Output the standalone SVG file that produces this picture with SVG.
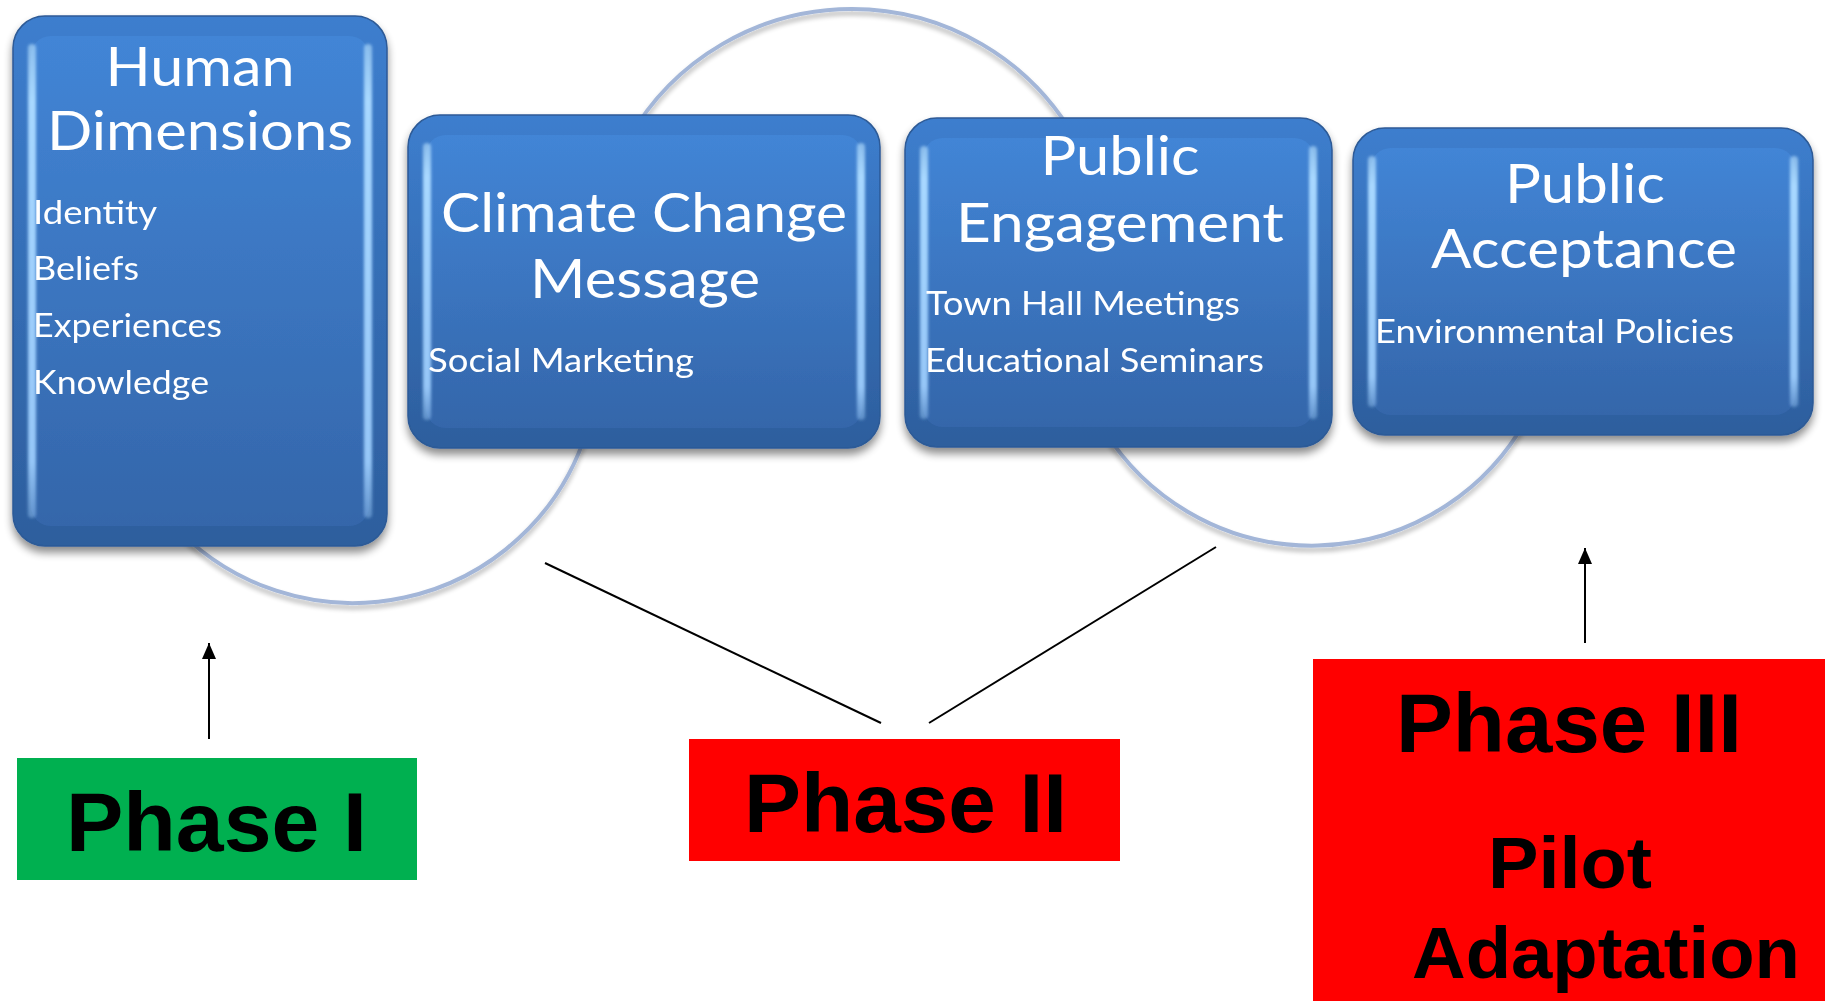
<svg xmlns="http://www.w3.org/2000/svg" width="1825" height="1001" viewBox="0 0 1825 1001">
<defs>
<style>
.outer{fill:url(#gOuter);stroke:#2d5a96;stroke-width:1.5}
.inner{fill:url(#gInner)}
.hi{fill:url(#gHi);filter:url(#soft)}
.title{font-family:Lato,"Liberation Sans",sans-serif;font-size:55px;fill:#ffffff}
.sub{font-family:Lato,"Liberation Sans",sans-serif;font-size:33px;fill:#ffffff}
.phase{font-family:"Liberation Sans",Arial,sans-serif;font-weight:bold;fill:#000000}
.arc{fill:none;stroke:#a3b6d8;stroke-width:4}
.conn{stroke:#000000;stroke-width:2;fill:none}
</style>
<linearGradient id="gOuter" x1="0" y1="0" x2="0" y2="1">
<stop offset="0" stop-color="#3d7ece"/>
<stop offset="1" stop-color="#2d5e9d"/>
</linearGradient>
<linearGradient id="gInner" x1="0" y1="0" x2="0" y2="1">
<stop offset="0" stop-color="#4285d6"/>
<stop offset="1" stop-color="#3466aa"/>
</linearGradient>
<linearGradient id="gHi" x1="0" y1="0" x2="0" y2="1">
<stop offset="0" stop-color="#b8e2ff" stop-opacity="0.6"/>
<stop offset="0.12" stop-color="#a8d8ff" stop-opacity="1"/>
<stop offset="0.88" stop-color="#a0d0ff" stop-opacity="0.9"/>
<stop offset="1" stop-color="#a0d0ff" stop-opacity="0.4"/>
</linearGradient>
<filter id="soft" x="-100%" y="-5%" width="300%" height="110%">
<feGaussianBlur stdDeviation="1.6"/>
</filter>
<filter id="shadow" x="-10%" y="-10%" width="120%" height="125%">
<feGaussianBlur in="SourceAlpha" stdDeviation="4"/>
<feOffset dx="0" dy="6" result="b"/>
<feComponentTransfer><feFuncA type="linear" slope="0.45"/></feComponentTransfer>
<feMerge><feMergeNode/><feMergeNode in="SourceGraphic"/></feMerge>
</filter>
<filter id="arcShadow" x="-10%" y="-10%" width="120%" height="130%">
<feGaussianBlur in="SourceAlpha" stdDeviation="2.5"/>
<feOffset dx="0" dy="4" result="b"/>
<feComponentTransfer><feFuncA type="linear" slope="0.3"/></feComponentTransfer>
<feMerge><feMergeNode/><feMergeNode in="SourceGraphic"/></feMerge>
</filter>
<marker id="arrow" viewBox="0 0 16 14" refX="16" refY="7" markerWidth="16" markerHeight="14" markerUnits="userSpaceOnUse" orient="auto">
<path d="M0,0 L16,7 L0,14 z" fill="#000000"/>
</marker>
</defs>
<rect width="1825" height="1001" fill="#ffffff"/>

<g id="arcs" filter="url(#arcShadow)">
<path class="arc" d="M169,520 A245,245 0 0,0 587,430"/>
<path class="arc" d="M628,140 A257,257 0 0,1 1076,140"/>
<path class="arc" d="M1104,430 A245,245 0 0,0 1526,420"/>
</g>

<g id="node-human-dimensions" filter="url(#shadow)">
<rect class="outer" x="13" y="16" width="374" height="530" rx="32"/>
<rect class="inner" x="31" y="36" width="338" height="490" rx="20"/>
<rect class="hi" x="28" y="44" width="8" height="474" rx="4"/>
<rect class="hi" x="364" y="44" width="8" height="474" rx="4"/>
<text class="title" x="200" y="86" text-anchor="middle" textLength="189" lengthAdjust="spacingAndGlyphs">Human</text>
<text class="title" x="200" y="150" text-anchor="middle" textLength="306" lengthAdjust="spacingAndGlyphs">Dimensions</text>
<text class="sub" x="33" y="224" textLength="124" lengthAdjust="spacingAndGlyphs">Identity</text>
<text class="sub" x="33" y="280" textLength="106" lengthAdjust="spacingAndGlyphs">Beliefs</text>
<text class="sub" x="33" y="337" textLength="189" lengthAdjust="spacingAndGlyphs">Experiences</text>
<text class="sub" x="33" y="394" textLength="176" lengthAdjust="spacingAndGlyphs">Knowledge</text>
</g>

<g id="node-climate-change-message" filter="url(#shadow)">
<rect class="outer" x="408" y="115" width="472" height="333" rx="32"/>
<rect class="inner" x="426" y="135" width="436" height="293" rx="20"/>
<rect class="hi" x="423" y="143" width="8" height="277" rx="4"/>
<rect class="hi" x="857" y="143" width="8" height="277" rx="4"/>
<text class="title" x="644" y="232" text-anchor="middle" textLength="406" lengthAdjust="spacingAndGlyphs">Climate Change</text>
<text class="title" x="645" y="298" text-anchor="middle" textLength="230" lengthAdjust="spacingAndGlyphs">Message</text>
<text class="sub" x="428" y="372" textLength="266" lengthAdjust="spacingAndGlyphs">Social Marketing</text>
</g>

<g id="node-public-engagement" filter="url(#shadow)">
<rect class="outer" x="905" y="118" width="427" height="329" rx="32"/>
<rect class="inner" x="923" y="138" width="391" height="289" rx="20"/>
<rect class="hi" x="920" y="146" width="8" height="273" rx="4"/>
<rect class="hi" x="1309" y="146" width="8" height="273" rx="4"/>
<text class="title" x="1120" y="175" text-anchor="middle" textLength="159" lengthAdjust="spacingAndGlyphs">Public</text>
<text class="title" x="1120" y="242" text-anchor="middle" textLength="328" lengthAdjust="spacingAndGlyphs">Engagement</text>
<text class="sub" x="926" y="315" textLength="314" lengthAdjust="spacingAndGlyphs">Town Hall Meetings</text>
<text class="sub" x="925" y="372" textLength="339" lengthAdjust="spacingAndGlyphs">Educational Seminars</text>
</g>

<g id="node-public-acceptance" filter="url(#shadow)">
<rect class="outer" x="1353" y="128" width="460" height="307" rx="32"/>
<rect class="inner" x="1371" y="148" width="424" height="267" rx="20"/>
<rect class="hi" x="1368" y="156" width="8" height="251" rx="4"/>
<rect class="hi" x="1790" y="156" width="8" height="251" rx="4"/>
<text class="title" x="1585" y="203" text-anchor="middle" textLength="160" lengthAdjust="spacingAndGlyphs">Public</text>
<text class="title" x="1584" y="268" text-anchor="middle" textLength="306" lengthAdjust="spacingAndGlyphs">Acceptance</text>
<text class="sub" x="1375" y="343" textLength="359" lengthAdjust="spacingAndGlyphs">Environmental Policies</text>
</g>

<g id="node-phase-1">
<rect x="17" y="758" width="400" height="122" fill="#00b050"/>
<text class="phase" x="66" y="851" font-size="84" textLength="301" lengthAdjust="spacingAndGlyphs">Phase I</text>
</g>

<g id="node-phase-2">
<rect x="689" y="739" width="431" height="122" fill="#ff0000"/>
<text class="phase" x="744" y="832" font-size="84" textLength="323" lengthAdjust="spacingAndGlyphs">Phase II</text>
</g>

<g id="node-phase-3">
<rect x="1313" y="659" width="512" height="342" fill="#ff0000"/>
<text class="phase" x="1396" y="752" font-size="84" textLength="346" lengthAdjust="spacingAndGlyphs">Phase III</text>
<text class="phase" x="1488" y="888" font-size="72" textLength="164" lengthAdjust="spacingAndGlyphs">Pilot</text>
<text class="phase" x="1412" y="978" font-size="73" textLength="388" lengthAdjust="spacingAndGlyphs">Adaptation</text>
</g>

<g id="connectors">
<line class="conn" x1="545" y1="563" x2="881" y2="723"/>
<line class="conn" x1="1216" y1="547" x2="929" y2="723"/>
<line class="conn" x1="209" y1="739" x2="209" y2="643" marker-end="url(#arrow)"/>
<line class="conn" x1="1585" y1="643" x2="1585" y2="548" marker-end="url(#arrow)"/>
</g>
</svg>
